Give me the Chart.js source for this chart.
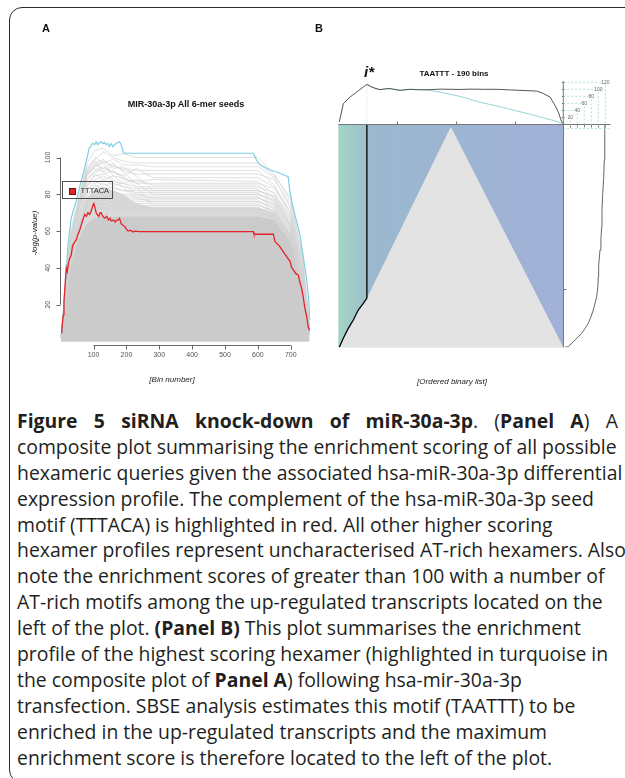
<!DOCTYPE html>
<html lang="en">
<head>
<meta charset="utf-8">
<title>Figure 5 – siRNA knock-down of miR-30a-3p</title>
<script src="https://cdn.jsdelivr.net/npm/chart.js@4.4.1/dist/chart.umd.min.js"></script>
<style>
  html, body { margin: 0; padding: 0; background: #fff; }
  body { position: relative; width: 625px; height: 778px; overflow: hidden;
         font-family: "Liberation Sans", Arial, sans-serif; color: #111; }
  .frame { position: absolute; left: 9px; top: 7px; width: 760px; height: 776px;
           border: 1.6px solid #2b2b2b; border-radius: 13px; box-sizing: border-box; }
  canvas { position: absolute; }
  .t { position: absolute; white-space: nowrap; line-height: 1; transform: translate(-50%, -50%); }
  .panel { font-weight: bold; font-size: 11px; }
  .title { font-weight: bold; font-size: 9px; color: #111; }
  .axt { font-style: italic; font-size: 8px; color: #222; }
  .legend { position: absolute; left: 61.5px; top: 181px; width: 51px; height: 18px;
            border: 1px solid #4d4d4d; box-sizing: border-box; }
  .legend .sw { position: absolute; left: 6.5px; top: 5.5px; width: 5px; height: 5px;
                background: #e5232a; border: 0.6px solid #5a1a1a; }
  .legend .lt { position: absolute; left: 18px; top: 4.5px; font-size: 7.5px; color: #333; line-height: 1; }
  .istar { font-weight: bold; font-style: italic; font-size: 15px; }
  #caption { position: absolute; left: 17px; top: 408px; width: 601px;
             font-family: "Open Sans", "Noto Sans", sans-serif; color: #231f20; font-size: 18px; }
  #caption div { white-space: nowrap; height: 25.9px; line-height: 25.9px; }
  #caption div.just { white-space: normal; text-align: justify; text-align-last: justify; }
</style>
</head>
<body>
<div class="frame"></div>

<canvas id="chartA" width="330" height="400" style="left:0;top:0;width:330px;height:400px"></canvas>
<canvas id="chartB" width="325" height="300" style="left:300px;top:60px;width:325px;height:300px"></canvas>

<div class="t panel" style="left:46px;top:28px">A</div>
<div class="t panel" style="left:319px;top:28px">B</div>

<div class="t title" style="left:186px;top:104px">MIR-30a-3p All 6-mer seeds</div>
<div class="t axt" style="left:35px;top:233px;transform:translate(-50%,-50%) rotate(-90deg)">-log(p-value)</div>
<div class="t axt" style="left:172px;top:380px">[Bin number]</div>
<div class="legend"><div class="sw"></div><div class="lt">TTTACA</div></div>

<div class="t istar" style="left:369px;top:71px">i*</div>
<div class="t title" style="left:454px;top:73.5px;font-size:8px">TAATTT - 190 bins</div>
<div class="t axt" style="left:452px;top:382px">[Ordered binary list]</div>

<div id="caption">
  <div class="just"><b>Figure 5 siRNA knock-down of miR-30a-3p</b>. (<b>Panel A</b>) A</div>
  <div><span id="capRef">composite plot summarising the enrichment scoring of all possible</span></div>
  <div>hexameric queries given the associated hsa-miR-30a-3p differential</div>
  <div>expression profile. The complement of the hsa-miR-30a-3p seed</div>
  <div>motif (TTTACA) is highlighted in red. All other higher scoring</div>
  <div>hexamer profiles represent uncharacterised AT-rich hexamers. Also</div>
  <div>note the enrichment scores of greater than 100 with a number of</div>
  <div>AT-rich motifs among the up-regulated transcripts located on the</div>
  <div>left of the plot. <b>(Panel B)</b> This plot summarises the enrichment</div>
  <div>profile of the highest scoring hexamer (highlighted in turquoise in</div>
  <div>the composite plot of <b>Panel A</b>) following hsa-mir-30a-3p</div>
  <div>transfection. SBSE analysis estimates this motif (TAATTT) to be</div>
  <div>enriched in the up-regulated transcripts and the maximum</div>
  <div>enrichment score is therefore located to the left of the plot.</div>
</div>

<script>
// ===================== Panel A: composite of all 6-mer profiles =====================
const binTicks = [100, 200, 300, 400, 500, 600, 700];
const scoreTicks = [20, 40, 60, 80, 100];

// bins at which the background hexamer profiles are sampled
const profileBins = [1, 12, 30, 55, 80, 105, 130, 160, 190, 230, 280, 600, 650, 700, 735, 757];

// upper edge of the solid mass of low-scoring hexamer profiles
const coreScores = [2, 14, 40, 56, 64, 67, 68, 68, 68, 68, 68, 68, 66, 54, 30, 4];
// upper edge of the tightly packed profiles just above the solid mass
const packedScores = [2, 17, 46, 64, 78, 83, 84, 82, 80, 75, 73, 73, 70, 57, 32, 5];

// individual higher-scoring AT-rich hexamer profiles
const hexamerScores = [
  [3, 24, 60, 78, 97, 104, 105, 101, 102, 100, 100, 100, 91, 76, 48, 9],
  [2, 23, 58, 76, 95, 99, 103, 100, 98, 97, 97, 97, 90, 78, 46, 9],
  [3, 22, 57, 75, 92, 100, 97, 99, 96, 96, 95, 95, 89, 72, 45, 8],
  [2, 22, 55, 74, 90, 96, 98, 95, 94, 93, 93, 93, 85, 70, 44, 8],
  [2, 21, 54, 73, 92, 94, 92, 96, 93, 91, 91, 91, 88, 74, 42, 8],
  [3, 21, 53, 72, 88, 93, 95, 92, 90, 94, 89, 89, 84, 68, 41, 7],
  [2, 20, 52, 72, 86, 90, 91, 93, 88, 87, 88, 87, 80, 66, 40, 7],
  [2, 20, 51, 70, 84, 91, 88, 90, 89, 86, 86, 86, 83, 70, 39, 7],
  [2, 19, 50, 69, 85, 88, 90, 87, 86, 88, 85, 85, 78, 64, 38, 7],
  [2, 19, 49, 68, 82, 86, 88, 85, 86, 84, 84, 84, 81, 67, 38, 6],
  [2, 19, 48, 68, 83, 87, 85, 86, 84, 83, 83, 83, 76, 62, 37, 6],
  [2, 18, 48, 67, 80, 84, 86, 83, 82, 82, 82, 82, 79, 65, 36, 6],
  [2, 18, 47, 66, 79, 85, 83, 84, 82, 81, 81, 81, 74, 60, 36, 6],
  [2, 18, 47, 66, 78, 82, 84, 81, 80, 80, 80, 80, 77, 63, 35, 6],
  [2, 17, 46, 65, 77, 81, 80, 82, 79, 79, 79, 79, 72, 58, 34, 6],
  [2, 17, 46, 64, 76, 80, 81, 79, 78, 78, 78, 78, 75, 61, 34, 5],
  [2, 17, 45, 63, 76, 79, 78, 80, 77, 77, 77, 77, 70, 57, 33, 5],
  [2, 16, 45, 63, 75, 78, 79, 77, 76, 76, 76, 76, 73, 59, 33, 5],
  [2, 16, 44, 62, 74, 77, 76, 78, 75, 75, 75, 75, 69, 56, 32, 5],
  [2, 16, 44, 62, 73, 76, 77, 75, 74, 74, 74, 74, 71, 58, 32, 5],
  [2, 16, 43, 61, 72, 75, 74, 76, 73, 73, 73, 73, 68, 55, 31, 5],
  [2, 15, 43, 60, 71, 74, 75, 73, 72, 72, 72, 72, 70, 57, 31, 5],
  [2, 15, 42, 60, 70, 73, 72, 74, 71, 71, 71, 71, 67, 54, 30, 4],
  [2, 15, 42, 59, 69, 72, 73, 71, 70, 70, 70, 70, 68, 56, 30, 4],
  [2, 22, 56, 76, 94, 98, 92, 88, 84, 78, 76, 76, 72, 58, 33, 5],
  [2, 21, 55, 75, 90, 95, 97, 90, 86, 80, 78, 78, 74, 60, 34, 5],
  [3, 23, 57, 77, 93, 96, 94, 97, 92, 86, 80, 80, 76, 62, 35, 6],
  [2, 20, 53, 72, 88, 92, 94, 92, 90, 84, 74, 74, 71, 57, 32, 5],
  [2, 21, 54, 74, 91, 97, 99, 94, 95, 90, 82, 82, 78, 63, 36, 6]
];

// TTTACA (complement of the miR-30a-3p seed), drawn in red
const tttacaBins = [3, 5, 8, 10, 13, 17, 20, 24, 27, 32, 36, 42, 47, 52, 57, 62, 67, 73, 78, 83,
  88, 93, 98, 101, 104, 108, 111, 116, 120, 123, 128, 134, 140, 146, 150, 154, 160, 166, 170, 174,
  179, 184, 190, 195, 200, 205, 212, 220, 225, 240, 586, 588, 647, 652, 665, 677, 688, 698, 703, 708,
  715, 723, 728, 733, 738, 743, 748, 753, 757];
const tttacaScores = [4.5, 10, 14.5, 22, 30, 40, 38, 43, 45, 47, 52, 54, 55, 58, 60, 63, 66, 69, 68, 70,
  69, 71, 74, 75, 73, 70, 69, 68, 70, 70, 68, 67, 68, 66, 67, 65.5, 66, 65, 66, 66,
  67, 64, 63, 62.5, 61, 60, 60.5, 59.5, 60, 59.7, 59.7, 58.3, 58.3, 54.2, 52, 48.8, 46, 43.4, 40, 38.9,
  37, 36.1, 32, 28.9, 24, 18, 14, 8, 6];

// TAATTT (highest scoring hexamer), drawn in turquoise
const taatttBins = [3, 7, 12, 17, 22, 27, 32, 40, 47, 55, 62, 70, 77, 82, 86, 92, 97, 103, 108, 113,
  118, 123, 128, 133, 138, 143, 148, 153, 159, 164, 170, 175, 179, 184, 190, 194, 586, 596, 606, 620,
  637, 660, 680, 692, 697, 703, 715, 728, 738, 748, 754, 758];
const taatttScores = [3.5, 12, 25, 38, 52, 60, 67, 72, 76, 82, 87, 92, 97.7, 101, 105, 106, 107.7, 107, 108.5, 107,
  108, 108.6, 107.5, 108.2, 107, 107.7, 106, 107.5, 105.9, 107, 107.8, 108.3, 108.6, 107, 103, 102.3, 102.3, 98.6, 96, 94.8,
  93.2, 92, 90.5, 89.6, 82, 76, 67, 57.9, 46, 34.3, 24, 12];

// ===================== Panel B: TAATTT enrichment landscape =====================
const LIST_LEN = 19050;                 // length of the ordered transcript list
const listTicks = [5000, 10000, 15000];
const rowTicks = [5000];
const ladderTicks = [20, 40, 60, 80, 100, 120];

// enrichment profile over the ordered list (top trace)
const profilePos = [85, 423, 991, 1558, 2117, 2420, 2828, 3100, 3531, 4000, 4378, 4800, 5224, 6071, 6900, 7764,
  8600, 9457, 10300, 11150, 12300, 13412, 14400, 15384, 16798, 17357, 17924, 18347, 18627, 18915, 19050];
const profileScore = [6.6, 59, 78, 92, 106.6, 114, 106.6, 103, 99, 101.5, 102, 99.5, 97, 100, 98.5, 99,
  100.5, 100, 99.5, 100.5, 100, 100, 98.5, 97, 95, 88, 78, 54, 35, 7, 2];

// i*: position of the maximum enrichment
const iStar = 2420;

// enrichment for windows starting at i* (turquoise trace)
const fixedStartPos = [2420, 2828, 3531, 4378, 5224, 6071, 7197, 7900, 8611, 9880, 10727, 11997, 12800, 13690,
  14500, 15384, 16200, 17077, 18204, 19050];
const fixedStartScore = [114, 106.6, 99, 102, 97, 100, 99, 96, 92, 83, 76, 63, 57, 50, 43, 36, 29, 21, 11, 2];

// boundary of the evaluated (grey) region; first points follow the optimal-window front
const boundaryPos = [85, 423, 847, 1270, 1693, 2117, 2420, 9525, 19050];
const boundaryRow = [0, 769, 1623, 2332, 3187, 3759, 4200, 18850, 0];

// maximum enrichment per row (right-hand trace)
const rowPos = [0, 51, 624, 1196, 1600, 2050, 2600, 3187, 3700, 4323, 5100, 6031, 7000, 8312, 9300,
  10303, 11700, 13156, 14500, 16001, 17400, 18846, 19050];
const rowMax = [3, 14.3, 33.4, 52.6, 62, 71.4, 79, 85.7, 90, 95.4, 98.5, 100, 101, 104.9, 107.5,
  109.7, 110.5, 112.6, 115.5, 117.1, 118, 119.1, 119.5];

// heat colour along the ordered list
const heatStops = [[0, '#a3d4c5'], [1200, '#9fcac8'], [2380, '#9dc0cc'], [2460, '#9bb8cf'],
  [9500, '#9db5d2'], [19050, '#a1b0d8']];

// ---------------------------------------------------------------
const pts = (xs, ys) => xs.map((x, i) => ({ x, y: ys[i] }));
const FONT = '"Liberation Sans", Arial, sans-serif';

// fit caption size so the second line spans the text block
(function () {
  const cap = document.getElementById('caption');
  const ref = document.getElementById('capRef');
  const w = ref.getBoundingClientRect().width;
  cap.style.fontSize = (18 * 600 / w).toFixed(2) + 'px';
})();

// R-style axes: lines run only between first and last tick
const axesA = {
  id: 'axesA',
  afterDraw(chart) {
    const { ctx, chartArea: a, scales: { x, y } } = chart;
    ctx.save();
    ctx.strokeStyle = '#666'; ctx.lineWidth = 1; ctx.fillStyle = '#555';
    ctx.font = '7px ' + FONT;
    const yx = Math.round(a.left) - 0.5;
    ctx.beginPath();
    ctx.moveTo(yx, y.getPixelForValue(scoreTicks[0]));
    ctx.lineTo(yx, y.getPixelForValue(scoreTicks[scoreTicks.length - 1]));
    scoreTicks.forEach(v => {
      const p = Math.round(y.getPixelForValue(v)) + 0.5;
      ctx.moveTo(yx, p); ctx.lineTo(yx - 4, p);
    });
    const xy = Math.round(a.bottom) - 0.5;
    ctx.moveTo(x.getPixelForValue(binTicks[0]), xy);
    ctx.lineTo(x.getPixelForValue(binTicks[binTicks.length - 1]), xy);
    binTicks.forEach(v => {
      const p = Math.round(x.getPixelForValue(v)) + 0.5;
      ctx.moveTo(p, xy); ctx.lineTo(p, xy + 4);
    });
    ctx.stroke();
    ctx.textAlign = 'center'; ctx.textBaseline = 'middle';
    scoreTicks.forEach(v => {
      ctx.save();
      ctx.translate(yx - 12, y.getPixelForValue(v));
      ctx.rotate(-Math.PI / 2);
      ctx.fillText(String(v), 0, 0);
      ctx.restore();
    });
    binTicks.forEach(v => ctx.fillText(String(v), x.getPixelForValue(v), xy + 10));
    ctx.restore();
  }
};

new Chart(document.getElementById('chartA'), {
  type: 'line',
  data: {
    datasets: [
      { label: 'TTTACA', data: pts(tttacaBins, tttacaScores), borderColor: '#e5232a', borderWidth: 1.3, order: 0 },
      { label: 'TAATTT', data: pts(taatttBins, taatttScores), borderColor: '#7fcfe0', borderWidth: 1.2, order: 1 },
      ...hexamerScores.map((s, i) => ({
        label: 'hexamer ' + (i + 1), data: pts(profileBins, s),
        borderColor: '#d2d2d2', borderWidth: 0.7, order: 2
      })),
      { label: 'packed 6-mers', data: pts(profileBins, packedScores), borderWidth: 0,
        backgroundColor: '#dadada', fill: 'origin', order: 3 },
      { label: 'all 6-mers', data: pts(profileBins, coreScores), borderWidth: 0,
        backgroundColor: '#cbcbcb', fill: 'origin', order: 2.5 }
    ]
  },
  options: {
    responsive: false, devicePixelRatio: 1, animation: false, events: [],
    layout: { padding: { left: 60.7, top: 129.9, right: 19.5, bottom: 53.9 } },
    elements: { point: { radius: 0 }, line: { tension: 0 } },
    plugins: { legend: { display: false }, tooltip: { enabled: false }, title: { display: false } },
    scales: {
      x: { type: 'linear', min: 0, max: 760, display: false },
      y: { type: 'linear', min: -2.5, max: 115, display: false }
    }
  },
  plugins: [axesA]
});

// Panel B geometry: the heat map takes 225 of the 274 px plot width and
// 223 of the 265.3 px plot height; top trace and ladder use 0.35 px per unit.
const PLOT_W = 274, HEAT_W = 225, PLOT_H = 265.3, HEAT_H = 223, SCORE_PX = 0.35;

const decorB = {
  id: 'decorB',
  beforeDatasetsDraw(chart) {
    const { ctx, scales: { x, yH } } = chart;
    const l = x.getPixelForValue(0), r = x.getPixelForValue(LIST_LEN);
    const t = yH.getPixelForValue(LIST_LEN), b = yH.getPixelForValue(0);
    const g = ctx.createLinearGradient(l, 0, r, 0);
    heatStops.forEach(([p, c]) => g.addColorStop(p / LIST_LEN, c));
    ctx.save();
    ctx.fillStyle = g;
    ctx.fillRect(l, t, r - l, b - t);
    ctx.restore();
  },
  afterDatasetsDraw(chart) {
    const { ctx, scales: { x, yH, yTop, xr } } = chart;
    ctx.save();
    const top = Math.round(yH.getPixelForValue(LIST_LEN)) + 0.5;
    const right = Math.round(x.getPixelForValue(LIST_LEN)) + 0.5;
    // frame of the heat map
    ctx.strokeStyle = '#777'; ctx.lineWidth = 1;
    ctx.beginPath();
    ctx.moveTo(x.getPixelForValue(0), top); ctx.lineTo(xr.getPixelForValue(135), top);
    ctx.moveTo(right, top); ctx.lineTo(right, yH.getPixelForValue(0));
    listTicks.forEach(v => { const p = Math.round(x.getPixelForValue(v)) + 0.5; ctx.moveTo(p, top); ctx.lineTo(p, top - 3); });
    rowTicks.forEach(v => { const p = Math.round(yH.getPixelForValue(v)) + 0.5; ctx.moveTo(right, p); ctx.lineTo(right + 3, p); });
    // ladder axis of the score scale
    const x0 = xr.getPixelForValue(0);
    ctx.moveTo(x0, top); ctx.lineTo(x0, yTop.getPixelForValue(124));
    ladderTicks.forEach(v => {
      const py = Math.round(yTop.getPixelForValue(v)) + 0.5;
      ctx.moveTo(x0 - 1.5, py); ctx.lineTo(x0 + 1.5, py);
      const px = Math.round(xr.getPixelForValue(v)) + 0.5;
      ctx.moveTo(px, top); ctx.lineTo(px, top + 3);
    });
    ctx.stroke();
    ctx.strokeStyle = '#9fd6dc'; ctx.setLineDash([2, 2]); ctx.lineWidth = 0.8;
    ctx.beginPath();
    ladderTicks.forEach(v => {
      const px = xr.getPixelForValue(v), py = yTop.getPixelForValue(v);
      ctx.moveTo(x0, py); ctx.lineTo(px - 3, py);
      ctx.moveTo(px, py + 3); ctx.lineTo(px, top + 4);
    });
    const below = top + 4;
    ctx.moveTo(x0, below); ctx.lineTo(xr.getPixelForValue(135), below);
    ctx.stroke();
    ctx.setLineDash([]);
    ctx.fillStyle = '#666'; ctx.font = '5px ' + FONT;
    ctx.textAlign = 'center'; ctx.textBaseline = 'middle';
    ladderTicks.forEach(v => ctx.fillText(String(v), xr.getPixelForValue(v), yTop.getPixelForValue(v)));
    ctx.restore();
  }
};

const blackFront = [{ x: iStar, y: LIST_LEN }].concat(pts(boundaryPos.slice(0, 7), boundaryRow.slice(0, 7)).reverse());

new Chart(document.getElementById('chartB'), {
  type: 'line',
  data: {
    datasets: [
      { label: 'TAATTT profile', data: pts(profilePos, profileScore), xAxisID: 'x', yAxisID: 'yTop',
        borderColor: '#555', borderWidth: 1, order: 0 },
      { label: 'windows from i*', data: pts(fixedStartPos, fixedStartScore), xAxisID: 'x', yAxisID: 'yTop',
        borderColor: '#95d4d8', borderWidth: 1, order: 1 },
      { label: 'i*', data: [{ x: iStar, y: 114 }, { x: iStar, y: 0 }], xAxisID: 'x', yAxisID: 'yTop',
        borderColor: '#9fd6dc', borderWidth: 0.8, borderDash: [1, 2], order: 1 },
      { label: 'optimal front', data: blackFront, xAxisID: 'x', yAxisID: 'yH',
        borderColor: '#000', borderWidth: 1.3, order: 0 },
      { label: 'row maximum', data: pts(rowMax, rowPos), xAxisID: 'xr', yAxisID: 'yH',
        borderColor: '#555', borderWidth: 0.9, order: 0 },
      { label: 'evaluated windows', data: pts(boundaryPos, boundaryRow), xAxisID: 'x', yAxisID: 'yH',
        borderWidth: 0, backgroundColor: '#e3e3e3', fill: 'origin', order: 5 }
    ]
  },
  options: {
    responsive: false, devicePixelRatio: 1, animation: false, events: [],
    layout: { padding: { left: 38.3, top: 22, right: 12.7, bottom: 12.7 } },
    elements: { point: { radius: 0 }, line: { tension: 0 } },
    plugins: { legend: { display: false }, tooltip: { enabled: false }, title: { display: false } },
    scales: {
      x: { type: 'linear', min: 0, max: LIST_LEN * PLOT_W / HEAT_W, display: false },
      xr: { type: 'linear', axis: 'x', min: -HEAT_W / SCORE_PX, max: (PLOT_W - HEAT_W) / SCORE_PX, display: false },
      yH: { type: 'linear', axis: 'y', min: 0, max: LIST_LEN * PLOT_H / HEAT_H, display: false },
      yTop: { type: 'linear', axis: 'y', min: -HEAT_H / SCORE_PX, max: (PLOT_H - HEAT_H) / SCORE_PX, display: false }
    }
  },
  plugins: [decorB]
});
</script>
</body>
</html>
